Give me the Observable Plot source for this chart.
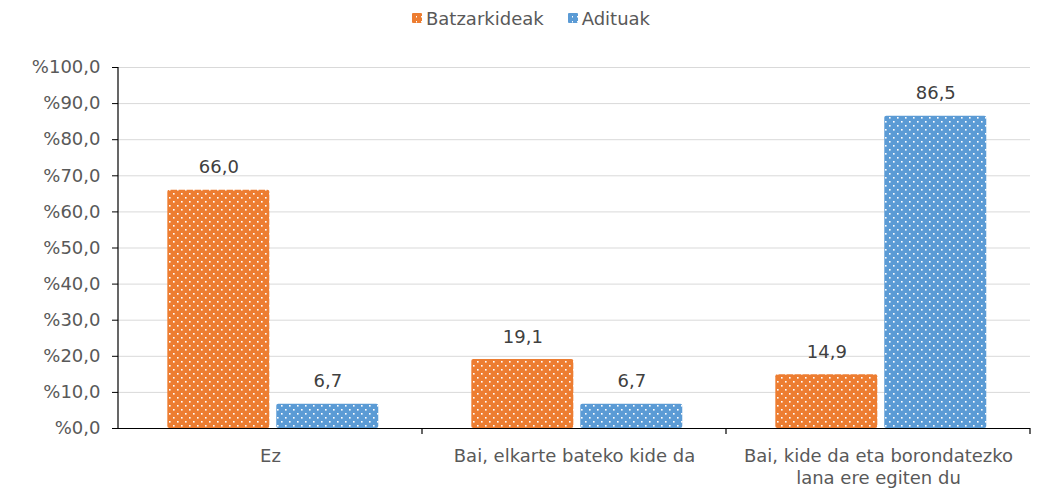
<!DOCTYPE html>
<html>
<head>
<meta charset="utf-8">
<script src="https://cdn.jsdelivr.net/npm/d3@7"></script>
<script src="https://cdn.jsdelivr.net/npm/@observablehq/plot@0.6"></script>
<style>
  html, body { margin: 0; padding: 0; background: #fff; }
  body { width: 1062px; height: 490px; overflow: hidden; font-family: "DejaVu Sans", Verdana, sans-serif; }
  #legend { height: 36px; display: flex; justify-content: center; align-items: center; font-size: 18px; color: #595959; }
  #legend .item { display: flex; align-items: center; margin: 0 12px; }
  #legend svg { margin-right: 4px; }
</style>
</head>
<body>
<div id="legend"></div>
<div id="chart"></div>
<script>
const categories = ["Ez", "Bai, elkarte bateko kide da", "Bai, kide da eta borondatezko\nlana ere egiten du"];
const seriesNames = ["Batzarkideak", "Adituak"];
const batzarkideak = [66.0, 19.1, 14.9];
const adituak = [6.7, 6.7, 86.5];
const yTicks = [0, 10, 20, 30, 40, 50, 60, 70, 80, 90, 100];
const colors = ["#ED7D31", "#5B9BD5"];

const fmtPct = d => "%" + d.toFixed(1).replace(".", ",");
const fmtVal = d => d.toFixed(1).replace(".", ",");

const data = [];
categories.forEach((c, i) => {
  data.push({cat: c, series: seriesNames[0], value: batzarkideak[i]});
  data.push({cat: c, series: seriesNames[1], value: adituak[i]});
});

function patternDefs(svgSel) {
  const defs = svgSel.insert("defs", ":first-child");
  seriesNames.forEach((s, i) => {
    const p = defs.append("pattern")
      .attr("id", "dots" + i)
      .attr("patternUnits", "userSpaceOnUse")
      .attr("width", 8).attr("height", 8);
    p.append("rect").attr("width", 8).attr("height", 8).attr("fill", colors[i]);
    p.append("rect").attr("x", 1).attr("y", 1).attr("width", 1.6).attr("height", 1.6).attr("fill", "#fff");
    p.append("rect").attr("x", 5).attr("y", 5).attr("width", 1.6).attr("height", 1.6).attr("fill", "#fff");
  });
}

// Legend
const legend = d3.select("#legend");
seriesNames.forEach((s, i) => {
  const item = legend.append("div").attr("class", "item");
  const sv = item.append("svg").attr("width", 10).attr("height", 10);
  const p = sv.append("defs").append("pattern")
    .attr("id", "ldots" + i).attr("patternUnits", "userSpaceOnUse")
    .attr("width", 5).attr("height", 5);
  p.append("rect").attr("width", 5).attr("height", 5).attr("fill", colors[i]);
  p.append("rect").attr("x", 4).attr("y", 3).attr("width", 1.5).attr("height", 1.5).attr("fill", "#fff");
  sv.append("rect").attr("width", 10).attr("height", 10).attr("rx", 1).attr("fill", "url(#ldots" + i + ")");
  item.append("span").text(s);
});

const plot = Plot.plot({
  width: 1062,
  height: 454,
  marginTop: 31,
  marginBottom: 62,
  marginLeft: 118,
  marginRight: 32,
  style: {fontFamily: "DejaVu Sans, Verdana, sans-serif", fontSize: "18px", color: "#595959", background: "#fff"},
  fx: {domain: categories, padding: 0, label: null, axis: null},
  x: {domain: seriesNames, paddingInner: 0.064, paddingOuter: 0.427, align: 0.53, round: false, axis: null},
  y: {domain: [0, 100], label: null},
  marks: [
    Plot.gridY(yTicks, {stroke: "#d9d9d9", strokeOpacity: 1, strokeWidth: 1}),
    Plot.barY(data.filter(d => d.series === seriesNames[0]), {fx: "cat", x: "series", y: "value", fill: "url(#dots0)", rx: 2}),
    Plot.barY(data.filter(d => d.series === seriesNames[1]), {fx: "cat", x: "series", y: "value", fill: "url(#dots1)", rx: 2}),
    Plot.text(data, {fx: "cat", x: "series", y: "value", text: d => fmtVal(d.value), lineAnchor: "bottom", dy: -17, fill: "#404040", fontSize: 18}),
    Plot.ruleY([0], {stroke: "#000", strokeWidth: 1.2}),
    Plot.axisY({ticks: yTicks, tickFormat: fmtPct, tickSize: 6, tickPadding: 12, stroke: "#000", fill: "#595959", fontSize: 18, label: null}),
    Plot.axisFx({anchor: "bottom", tickSize: 0, tickPadding: 18, fontSize: 18, fill: "#595959", lineHeight: 1.22, label: null})
  ]
});

document.getElementById("chart").appendChild(plot);
const svg = d3.select(plot);
patternDefs(svg);

// Axis lines and category boundary ticks from the scales
const fx = plot.scale("fx");
const y = plot.scale("y");
const y0 = y.apply(0), y100 = y.apply(100);
const left = fx.apply(categories[0]);
svg.append("line").attr("x1", left).attr("x2", left).attr("y1", y100).attr("y2", y0)
  .attr("stroke", "#000").attr("stroke-width", 1.2);
categories.forEach(c => {
  const xr = fx.apply(c) + fx.bandwidth;
  svg.append("line").attr("x1", xr).attr("x2", xr).attr("y1", y0).attr("y2", y0 + 6)
    .attr("stroke", "#000").attr("stroke-width", 1.2);
});
</script>
</body>
</html>
